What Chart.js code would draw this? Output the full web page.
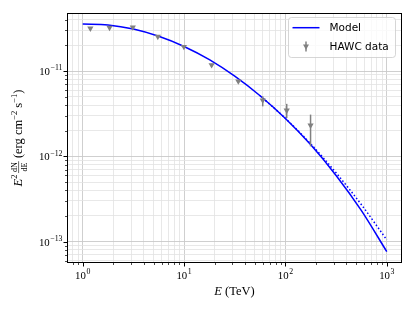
<!DOCTYPE html>
<html><head><meta charset="utf-8">
<script src="https://cdn.jsdelivr.net/npm/chart.js@4"></script>
<style>html,body{margin:0;padding:0;background:#fff}canvas{display:block}</style>
</head><body>
<canvas id="c" width="415" height="311"></canvas>
<script>
// ---- data ----
const modelE    = [1, 1.778, 3.162, 5.623, 10, 17.78, 31.62, 56.23, 100, 177.8, 316.2, 562.3, 1000];
const modelFlux = [3.565e-11, 3.475e-11, 3.11e-11, 2.56e-11, 1.945e-11, 1.36e-11, 8.71e-12, 5.14e-12, 2.78e-12, 1.365e-12, 5.98e-13, 2.31e-13, 7.64e-14];
const intrinsicE    = [56.23, 100, 177.8, 316.2, 562.3, 1000];
const intrinsicFlux = [5.14e-12, 2.79e-12, 1.40e-12, 6.41e-13, 2.71e-13, 1.05e-13];
const hawcE    = [1.19, 1.84, 3.12, 5.51, 9.96, 18.7, 34.3, 59.7, 103, 177];
const hawcFlux = [3.17e-11, 3.23e-11, 3.27e-11, 2.54e-11, 1.93e-11, 1.18e-11, 7.61e-12, 4.55e-12, 3.47e-12, 2.31e-12];
const hawcHi   = [3.27e-11, 3.33e-11, 3.37e-11, 2.62e-11, 1.99e-11, 1.22e-11, 7.95e-12, 5.07e-12, 4.13e-12, 3.09e-12];
const hawcLo   = [3.07e-11, 3.13e-11, 3.17e-11, 2.46e-11, 1.87e-11, 1.14e-11, 7.30e-12, 3.86e-12, 2.82e-12, 1.31e-12];
const xMajorTicks = [1, 10, 100, 1000];
const xTickExps   = ['0', '1', '2', '3'];
const yMajorTicks = [1e-13, 1e-12, 1e-11];
const yTickExps   = ['\u221213', '\u221212', '\u221211'];
const xRange = [0.708, 1413];
const yRange = [5.62e-14, 4.80e-11];
const legendLabels = ['Model', 'HAWC data'];

function allTicks(min, max) {
  const out = [];
  const n0 = Math.floor(Math.log10(min)), n1 = Math.ceil(Math.log10(max));
  for (let n = n0; n <= n1; n++) {
    for (let k = 1; k <= 9; k++) {
      const v = Number((k * Math.pow(10, n)).toPrecision(6));
      if (v >= min && v <= max) out.push({ value: v, major: k === 1 });
    }
  }
  return out;
}

const SERIF = '"Liberation Serif", "DejaVu Serif", serif';
const BLUE = '#0000ff', GRAY = '#808080';

const decor = {
  id: 'decor',
  afterDatasetsDraw(chart) {
    const ctx = chart.ctx;
    const xs = chart.scales.x, ys = chart.scales.y;
    ctx.save();
    ctx.strokeStyle = GRAY; ctx.lineWidth = 1.5;
    for (let i = 0; i < hawcE.length; i++) {
      const px = xs.getPixelForValue(hawcE[i]);
      ctx.beginPath();
      ctx.moveTo(px, ys.getPixelForValue(hawcHi[i]));
      ctx.lineTo(px, ys.getPixelForValue(hawcLo[i]));
      ctx.stroke();
    }
    ctx.restore();
  },
  afterDraw(chart) {
    const ctx = chart.ctx, a = chart.chartArea;
    const xs = chart.scales.x, ys = chart.scales.y;
    ctx.save();
    ctx.strokeStyle = '#000'; ctx.lineWidth = 1;
    ctx.strokeRect(Math.round(a.left) + 0.5, Math.round(a.top) + 0.5, Math.round(a.right - a.left) - 1, Math.round(a.bottom - a.top) - 1);
    const bot = Math.round(a.bottom), left = Math.round(a.left);
    xs.ticks.forEach(t => {
      const px = Math.round(xs.getPixelForValue(t.value)) + 0.5;
      ctx.lineWidth = t.major ? 1 : 0.7;
      ctx.beginPath(); ctx.moveTo(px, bot); ctx.lineTo(px, bot + (t.major ? 3.5 : 2)); ctx.stroke();
    });
    ys.ticks.forEach(t => {
      const py = Math.round(ys.getPixelForValue(t.value)) + 0.5;
      ctx.lineWidth = t.major ? 1 : 0.7;
      ctx.beginPath(); ctx.moveTo(left, py); ctx.lineTo(left - (t.major ? 3.5 : 2), py); ctx.stroke();
    });
    ctx.fillStyle = '#000'; ctx.textBaseline = 'alphabetic';
    const baseF = '10.8px ' + SERIF, supF = '7.8px ' + SERIF;
    function pow(exp, x, y, align) {
      ctx.font = baseF; const w1 = ctx.measureText('10').width;
      ctx.font = supF; const w2 = ctx.measureText(exp).width;
      const tot = w1 + w2 + 0.6;
      const s = align === 'center' ? x - tot / 2 : x - tot;
      ctx.font = baseF; ctx.textAlign = 'left'; ctx.fillText('10', s, y);
      ctx.font = supF; ctx.fillText(exp, s + w1 + 0.6, y - 4.8);
    }
    xMajorTicks.forEach((v, i) => pow(xTickExps[i], xs.getPixelForValue(v), a.bottom + 15.8, 'center'));
    yMajorTicks.forEach((v, i) => pow(yTickExps[i], a.left - 4.5, ys.getPixelForValue(v) + 4, 'right'));
    ctx.font = 'italic 12.5px ' + SERIF;
    const wE = ctx.measureText('E').width;
    ctx.font = '12.5px ' + SERIF;
    const wR = ctx.measureText(' (TeV)').width;
    const cx = (a.left + a.right) / 2, sx = cx - (wE + wR) / 2;
    ctx.font = 'italic 12.5px ' + SERIF; ctx.textAlign = 'left';
    ctx.fillText('E', sx, a.bottom + 31.5);
    ctx.font = '12.5px ' + SERIF;
    ctx.fillText(' (TeV)', sx + wE, a.bottom + 31.5);
    ctx.save();
    ctx.translate(22, (a.top + a.bottom) / 2);
    ctx.rotate(-Math.PI / 2);
    const parts = [
      { t: 'E', f: 'italic 12.5px ' + SERIF, dy: 0 },
      { t: '2', f: '8.5px ' + SERIF, dy: -5 },
      { frac: ['dN', 'dE'], f: '8px ' + SERIF },
      { t: ' (erg cm', f: '12.5px ' + SERIF, dy: 0 },
      { t: '\u22122', f: '8.5px ' + SERIF, dy: -5 },
      { t: ' s', f: '12.5px ' + SERIF, dy: 0 },
      { t: '\u22121', f: '8.5px ' + SERIF, dy: -5 },
      { t: ')', f: '12.5px ' + SERIF, dy: 0 }
    ];
    let total = 0;
    parts.forEach(p => {
      ctx.font = p.f;
      if (p.frac) { p.w = Math.max(ctx.measureText(p.frac[0]).width, ctx.measureText(p.frac[1]).width) + 2; p.pad = 1.5; }
      else { p.w = ctx.measureText(p.t).width; p.pad = 0; }
      total += p.w + p.pad;
    });
    let px = -total / 2;
    ctx.textAlign = 'left';
    parts.forEach(p => {
      ctx.font = p.f;
      if (p.frac) {
        const x0 = px + p.pad;
        const c = x0 + p.w / 2;
        ctx.textAlign = 'center';
        ctx.fillText(p.frac[0], c, -4.8);
        ctx.fillText(p.frac[1], c, 4.6);
        ctx.textAlign = 'left';
        ctx.lineWidth = 0.6; ctx.beginPath(); ctx.moveTo(x0, -3.4); ctx.lineTo(x0 + p.w, -3.4); ctx.stroke();
        px += p.w + p.pad;
      } else {
        ctx.fillText(p.t, px, p.dy);
        px += p.w;
      }
    });
    ctx.restore();
    const lx = 288.5, ly = 17.5, lw = 107, lh = 40, r = 3;
    ctx.beginPath();
    ctx.moveTo(lx + r, ly); ctx.lineTo(lx + lw - r, ly); ctx.quadraticCurveTo(lx + lw, ly, lx + lw, ly + r);
    ctx.lineTo(lx + lw, ly + lh - r); ctx.quadraticCurveTo(lx + lw, ly + lh, lx + lw - r, ly + lh);
    ctx.lineTo(lx + r, ly + lh); ctx.quadraticCurveTo(lx, ly + lh, lx, ly + lh - r);
    ctx.lineTo(lx, ly + r); ctx.quadraticCurveTo(lx, ly, lx + r, ly); ctx.closePath();
    ctx.fillStyle = 'rgba(255,255,255,0.8)'; ctx.fill();
    ctx.strokeStyle = 'rgba(204,204,204,0.8)'; ctx.lineWidth = 1; ctx.stroke();
    ctx.strokeStyle = BLUE; ctx.lineWidth = 1.5;
    ctx.beginPath(); ctx.moveTo(292.5, 27.7); ctx.lineTo(319.5, 27.7); ctx.stroke();
    ctx.strokeStyle = GRAY; ctx.lineWidth = 1.5;
    ctx.beginPath(); ctx.moveTo(306, 41.5); ctx.lineTo(306, 51.5); ctx.stroke();
    ctx.fillStyle = GRAY;
    ctx.beginPath(); ctx.moveTo(303, 44.5); ctx.lineTo(309, 44.5); ctx.lineTo(306, 49.8); ctx.closePath(); ctx.fill();
    ctx.fillStyle = '#000'; ctx.font = '10.5px "DejaVu Sans", sans-serif'; ctx.textAlign = 'left'; ctx.textBaseline = 'middle';
    ctx.fillText(legendLabels[0], 329.5, 28);
    ctx.fillText(legendLabels[1], 329.5, 47);
    ctx.restore();
  }
};

const pts = (xs, ys) => xs.map((x, i) => ({ x: x, y: ys[i] }));
const gridOpts = {
  color: c => (c.tick && c.tick.major) ? '#c9c9c9' : '#e2e2e2',
  lineWidth: c => (c.tick && c.tick.major) ? 0.9 : 0.8,
  drawTicks: false
};

new Chart(document.getElementById('c'), {
  type: 'scatter',
  data: {
    datasets: [
      { label: 'HAWC data', data: pts(hawcE, hawcFlux), pointStyle: 'triangle', rotation: 180,
        pointRadius: 3.6, backgroundColor: GRAY, borderColor: GRAY, borderWidth: 0, showLine: false },
      { label: 'Model', data: pts(modelE, modelFlux), showLine: true, borderColor: BLUE, borderWidth: 1.5,
        pointRadius: 0, cubicInterpolationMode: 'monotone', fill: false },
      { label: 'Model (intrinsic)', data: pts(intrinsicE, intrinsicFlux), showLine: true, borderColor: BLUE, borderWidth: 1.5,
        borderDash: [1.5, 2.2], pointRadius: 0, cubicInterpolationMode: 'monotone', fill: false }
    ]
  },
  options: {
    responsive: false, animation: false, events: [], devicePixelRatio: 1,
    layout: { padding: { left: 67, top: 13, right: 13, bottom: 48 } },
    plugins: { legend: { display: false }, tooltip: { enabled: false } },
    scales: {
      x: { type: 'logarithmic', min: xRange[0], max: xRange[1], ticks: { display: false }, grid: gridOpts,
           border: { display: false }, afterBuildTicks: s => { s.ticks = allTicks(xRange[0], xRange[1]); } },
      y: { type: 'logarithmic', min: yRange[0], max: yRange[1], ticks: { display: false }, grid: gridOpts,
           border: { display: false }, afterBuildTicks: s => { s.ticks = allTicks(yRange[0], yRange[1]); } }
    }
  },
  plugins: [decor]
});
</script>
</body></html>
